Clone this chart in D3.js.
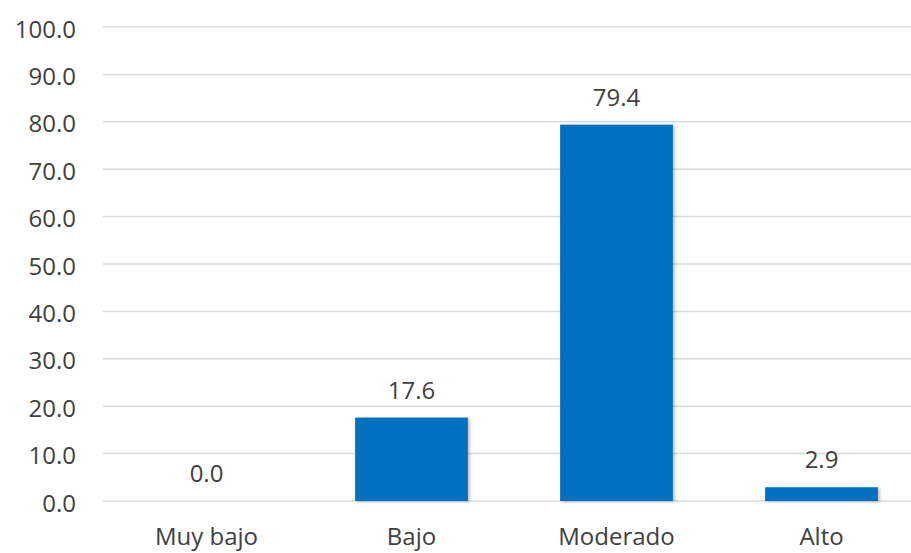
<!DOCTYPE html>
<html>
<head>
<meta charset="utf-8">
<script src="https://cdn.jsdelivr.net/npm/d3@7"></script>
<style>
  body { margin: 0; background: #fff; }
  text { font-family: "Open Sans", "Liberation Sans", sans-serif; fill: #404040; }
</style>
</head>
<body>
<div id="chart"></div>
<script>
// data
var categories = ["Muy bajo", "Bajo", "Moderado", "Alto"];
var values = [0.0, 17.6, 79.4, 2.9];
var yTicks = [0, 10, 20, 30, 40, 50, 60, 70, 80, 90, 100];

var width = 911, height = 553;

var svg = d3.select("#chart")
  .append("svg")
    .attr("width", width)
    .attr("height", height);

var defs = svg.append("defs");
var shadow = defs.append("filter").attr("id", "shadow")
  .attr("x", "-10%").attr("y", "-10%").attr("width", "130%").attr("height", "130%");
shadow.append("feDropShadow")
  .attr("dx", 2).attr("dy", 1).attr("stdDeviation", 1.5)
  .attr("flood-color", "#000").attr("flood-opacity", 0.25);

var x = d3.scaleBand()
  .domain(categories)
  .range([104, 924])
  .paddingInner(0.45)
  .paddingOuter(0.225);

var y = d3.scaleLinear()
  .domain([0, 100])
  .range([501, 27]);

// gridlines
svg.append("g")
  .selectAll("line")
  .data(yTicks)
  .enter().append("line")
    .attr("x1", 103)
    .attr("x2", width)
    .attr("y1", function(d) { return y(d); })
    .attr("y2", function(d) { return y(d); })
    .attr("stroke", "#d9d9d9")
    .attr("stroke-width", 1.5);

// y labels
var yAxis = svg.append("g")
  .attr("transform", "translate(76,0)")
  .call(d3.axisLeft(y).tickValues(yTicks).tickSize(0).tickPadding(0)
    .tickFormat(d3.format(".1f")));
yAxis.select(".domain").remove();
yAxis.selectAll("text")
  .style("font-size", "24px")
  .attr("fill", "#404040")
  .attr("dy", "0.42em");

// bars
svg.append("g")
  .selectAll("rect")
  .data(values)
  .enter().append("rect")
    .attr("x", function(d, i) { return x(categories[i]); })
    .attr("width", x.bandwidth())
    .attr("y", function(d) { return y(d); })
    .attr("height", function(d) { return y(0) - y(d); })
    .attr("fill", "#0070c0")
    .attr("filter", "url(#shadow)");

// value labels
svg.append("g")
  .selectAll("text")
  .data(values)
  .enter().append("text")
    .attr("x", function(d, i) { return x(categories[i]) + x.bandwidth() / 2; })
    .attr("y", function(d) { return y(d) - 19; })
    .attr("text-anchor", "middle")
    .style("font-size", "24px")
    .text(function(d) { return d.toFixed(1); });

// category labels
var xAxis = svg.append("g")
  .attr("transform", "translate(0," + y(0) + ")")
  .call(d3.axisBottom(x).tickSize(0).tickPadding(0));
xAxis.select(".domain").remove();
xAxis.selectAll("text")
  .style("font-size", "24px")
  .attr("fill", "#404040")
  .attr("dy", "0")
  .attr("y", 44);
</script>
</body>
</html>
